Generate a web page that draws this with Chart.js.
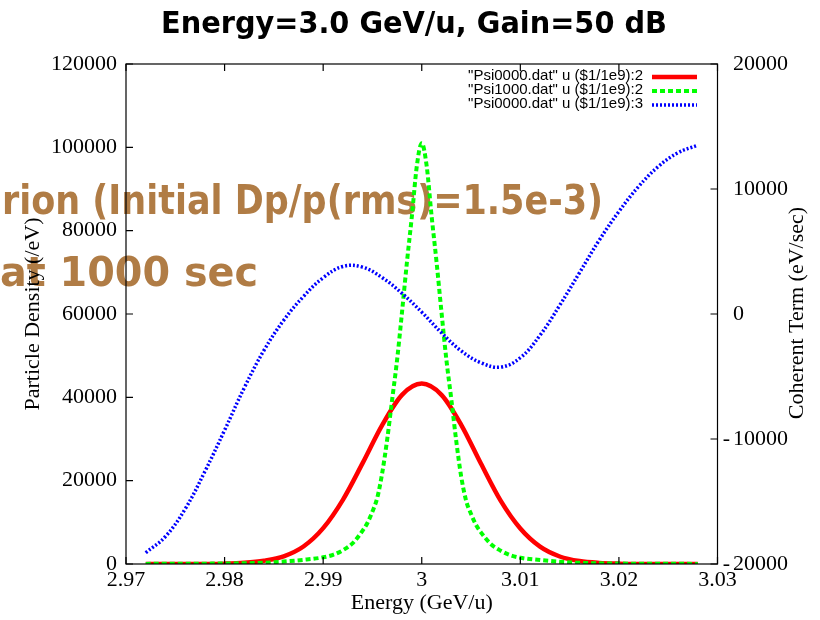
<!DOCTYPE html>
<html>
<head>
<meta charset="utf-8">
<script src="https://cdn.jsdelivr.net/npm/chart.js@4.4.1/dist/chart.umd.min.js"></script>
<style>
  body { margin: 0; background: #fff; }
  #wrap { width: 820px; height: 620px; }
</style>
</head>
<body>
<div id="wrap"><canvas id="psi-chart" width="820" height="620"></canvas></div>
<script>
// energy grid (GeV/u) used by the red and blue curves
const energy = [2.972, 2.974, 2.976, 2.978, 2.980, 2.982, 2.984, 2.986, 2.988, 2.990,
  2.992, 2.994, 2.996, 2.998, 3.000, 3.002, 3.004, 3.006, 3.008, 3.010,
  3.012, 3.014, 3.016, 3.018, 3.020, 3.022, 3.024, 3.026, 3.028];

// Psi0000 particle density (/eV)
const psi0000 = [0, 1, 4, 17, 90, 300, 800, 1850, 4200, 8600,
  15400, 24200, 33400, 40600, 43300, 40600, 33400, 24100, 15200, 8500,
  4150, 1800, 700, 250, 80, 20, 5, 1, 0];

// finer grid for the narrow Psi1000 peak
const greenEnergy = [2.972, 2.976, 2.980, 2.984, 2.986, 2.988, 2.990, 2.991, 2.992, 2.993,
  2.994, 2.9945, 2.995, 2.9955, 2.996, 2.9965, 2.997, 2.9975, 2.998, 2.9985,
  2.999, 2.9995, 3.000, 3.0005, 3.001, 3.0015, 3.002, 3.0025, 3.003, 3.0035,
  3.004, 3.0045, 3.005, 3.0055, 3.006, 3.007, 3.008, 3.009, 3.010, 3.012,
  3.014, 3.016, 3.020, 3.024, 3.028];

const psi1000 = [30, 60, 120, 300, 600, 1000, 1600, 2200, 3300, 5000,
  8000, 9900, 12600, 16000, 22000, 30000, 39500, 49000, 60500, 72500,
  83500, 95500, 101000, 95500, 83500, 72500, 60500, 49000, 39500, 29500,
  21000, 15200, 12000, 9400, 7600, 4800, 3200, 2100, 1500, 950,
  550, 280, 110, 50, 25];

// coherent term (eV/sec), right axis
const coherent = [-19100, -17800, -15600, -12600, -9300, -5900, -2900, -500, 1400, 2900,
  3800, 3750, 2900, 1650, 150, -1500, -2950, -3900, -4250, -3500,
  -1700, 700, 3300, 5900, 8200, 10200, 11800, 12900, 13500];

const seriesLabels = ['"Psi0000.dat" u ($1/1e9):2', '"Psi1000.dat" u ($1/1e9):2', '"Psi0000.dat" u ($1/1e9):3'];

const xTicks = [2.97, 2.98, 2.99, 3.00, 3.01, 3.02, 3.03];
const xTickLabels = ['2.97', '2.98', '2.99', '3', '3.01', '3.02', '3.03'];
const yTicks = [0, 20000, 40000, 60000, 80000, 100000, 120000];
const yTickLabels = ['0', '20000', '40000', '60000', '80000', '100000', '120000'];
const y2Ticks = [-20000, -10000, 0, 10000, 20000];
const y2TickLabels = ['-20000', '-10000', '0', '10000', '20000'];

const serif = '"Liberation Serif", "DejaVu Serif", serif';
const heavy = '"DejaVu Sans", "Liberation Sans", sans-serif';

function toPoints(xs, ys) {
  return xs.map((x, i) => ({ x: x, y: ys[i] }));
}

// squeeze text into a given width
function fitText(ctx, text, x, y, w) {
  const m = ctx.measureText(text).width;
  ctx.save();
  ctx.translate(x, y);
  ctx.scale(w / m, 1);
  ctx.fillText(text, 0, 0);
  ctx.restore();
}

const gnuplotLook = {
  id: 'gnuplotLook',
  beforeDraw(chart) {
    const ctx = chart.ctx;
    ctx.save();
    ctx.fillStyle = '#fff';
    ctx.fillRect(0, 0, chart.width, chart.height);
    // brown caption sitting behind the plot
    ctx.fillStyle = '#b07c45';
    ctx.font = 'bold 41px ' + heavy;
    ctx.textAlign = 'left';
    ctx.textBaseline = 'alphabetic';
    fitText(ctx, 'rion (Initial Dp/p(rms)=1.5e-3)', 2, 214, 601);
    fitText(ctx, 'at 1000 sec', 0, 286, 258);
    ctx.restore();
  },
  afterDraw(chart) {
    const ctx = chart.ctx;
    const a = chart.chartArea;
    const sx = chart.scales.x, sy = chart.scales.y, sy2 = chart.scales.y2;
    ctx.save();
    ctx.setLineDash([]);
    ctx.strokeStyle = '#000';
    ctx.lineWidth = 1.2;
    ctx.strokeRect(a.left, a.top, a.right - a.left, a.bottom - a.top);

    // inward ticks like gnuplot
    const tl = 7;
    ctx.beginPath();
    xTicks.forEach(v => {
      const px = sx.getPixelForValue(v);
      ctx.moveTo(px, a.bottom); ctx.lineTo(px, a.bottom - tl);
      ctx.moveTo(px, a.top); ctx.lineTo(px, a.top + tl);
    });
    yTicks.forEach(v => {
      const py = sy.getPixelForValue(v);
      ctx.moveTo(a.left, py); ctx.lineTo(a.left + tl, py);
    });
    y2Ticks.forEach(v => {
      const py = sy2.getPixelForValue(v);
      ctx.moveTo(a.right, py); ctx.lineTo(a.right - tl, py);
    });
    ctx.stroke();

    // right axis labels, minus sign hangs left of the digits
    ctx.fillStyle = '#000';
    ctx.font = '22px ' + serif;
    ctx.textBaseline = 'middle';
    y2Ticks.forEach((v, i) => {
      const py = sy2.getPixelForValue(v);
      let s = y2TickLabels[i];
      if (s[0] === '-') {
        ctx.textAlign = 'right';
        ctx.fillText('-', 730, py);
        s = s.slice(1);
      }
      ctx.textAlign = 'left';
      ctx.fillText(s, 733, py);
    });

    // right axis title, reads bottom to top
    ctx.save();
    ctx.translate(797, 313);
    ctx.rotate(-Math.PI / 2);
    ctx.textAlign = 'center';
    ctx.fillText('Coherent Term (eV/sec)', 0, 0);
    ctx.restore();

    // title
    ctx.font = 'bold 30px ' + heavy;
    ctx.textAlign = 'left';
    ctx.textBaseline = 'alphabetic';
    fitText(ctx, 'Energy=3.0 GeV/u, Gain=50 dB', 161, 33, 506);

    // key in the top right corner
    const rows = [76, 90, 104];
    ctx.font = '15px "Liberation Sans", Arial, sans-serif';
    ctx.textBaseline = 'middle';
    chart.data.datasets.forEach((ds, i) => {
      ctx.fillStyle = '#000';
      ctx.textAlign = 'right';
      ctx.fillText(ds.label, 643, rows[i]);
      ctx.strokeStyle = ds.borderColor;
      ctx.lineWidth = ds.borderWidth;
      ctx.setLineDash(ds.borderDash || []);
      ctx.beginPath();
      ctx.moveTo(652, rows[i] + 1);
      ctx.lineTo(697, rows[i] + 1);
      ctx.stroke();
    });
    ctx.restore();
  }
};

Chart.defaults.font.family = serif;
Chart.defaults.color = '#000';

const ctx = document.getElementById('psi-chart').getContext('2d');
const chart = new Chart(ctx, {
  type: 'line',
  data: {
    datasets: [{
      label: seriesLabels[0],
      data: toPoints(energy, psi0000),
      yAxisID: 'y',
      borderColor: '#ff0000',
      borderWidth: 4.5,
      pointRadius: 0,
      fill: false,
      cubicInterpolationMode: 'monotone',
      order: 3
    }, {
      label: seriesLabels[1],
      data: toPoints(greenEnergy, psi1000),
      yAxisID: 'y',
      borderColor: '#00ff00',
      borderWidth: 4,
      borderDash: [5, 3],
      pointRadius: 0,
      fill: false,
      cubicInterpolationMode: 'monotone',
      order: 2
    }, {
      label: seriesLabels[2],
      data: toPoints(energy, coherent),
      yAxisID: 'y2',
      borderColor: '#0000ff',
      borderWidth: 3.5,
      borderDash: [2, 2],
      pointRadius: 0,
      fill: false,
      tension: 0.4,
      order: 1
    }]
  },
  options: {
    responsive: false,
    animation: false,
    layout: { padding: { top: 64, left: 0, right: 0, bottom: 0 } },
    plugins: {
      legend: { display: false },
      tooltip: { enabled: false },
      title: { display: false }
    },
    scales: {
      x: {
        type: 'linear',
        min: 2.97,
        max: 3.03,
        grid: { display: false, drawTicks: false },
        border: { display: false },
        afterBuildTicks: s => { s.ticks = xTicks.map(v => ({ value: v })); },
        afterFit: s => { s.height = 56; },
        ticks: {
          autoSkip: false,
          maxRotation: 0,
          padding: 3,
          font: { size: 22 },
          callback: (v, i) => xTickLabels[i]
        },
        title: {
          display: true,
          text: 'Energy (GeV/u)',
          font: { size: 22, lineHeight: 1 },
          padding: { top: 0, bottom: 6 }
        }
      },
      y: {
        position: 'left',
        min: 0,
        max: 120000,
        grid: { display: false, drawTicks: false },
        border: { display: false },
        afterBuildTicks: s => { s.ticks = yTicks.map(v => ({ value: v })); },
        afterFit: s => { s.width = 126; },
        ticks: {
          autoSkip: false,
          padding: 9,
          font: { size: 22 },
          callback: (v, i) => yTickLabels[i]
        },
        title: {
          display: true,
          text: 'Particle Density (/eV)',
          font: { size: 22, lineHeight: 1 },
          padding: { top: 22, bottom: 0 }
        }
      },
      y2: {
        position: 'right',
        min: -20000,
        max: 20000,
        grid: { display: false, drawTicks: false },
        border: { display: false },
        afterBuildTicks: s => { s.ticks = y2Ticks.map(v => ({ value: v })); },
        afterFit: s => { s.width = 102.5; },
        ticks: { display: false }
      }
    }
  },
  plugins: [gnuplotLook]
});
</script>
</body>
</html>
